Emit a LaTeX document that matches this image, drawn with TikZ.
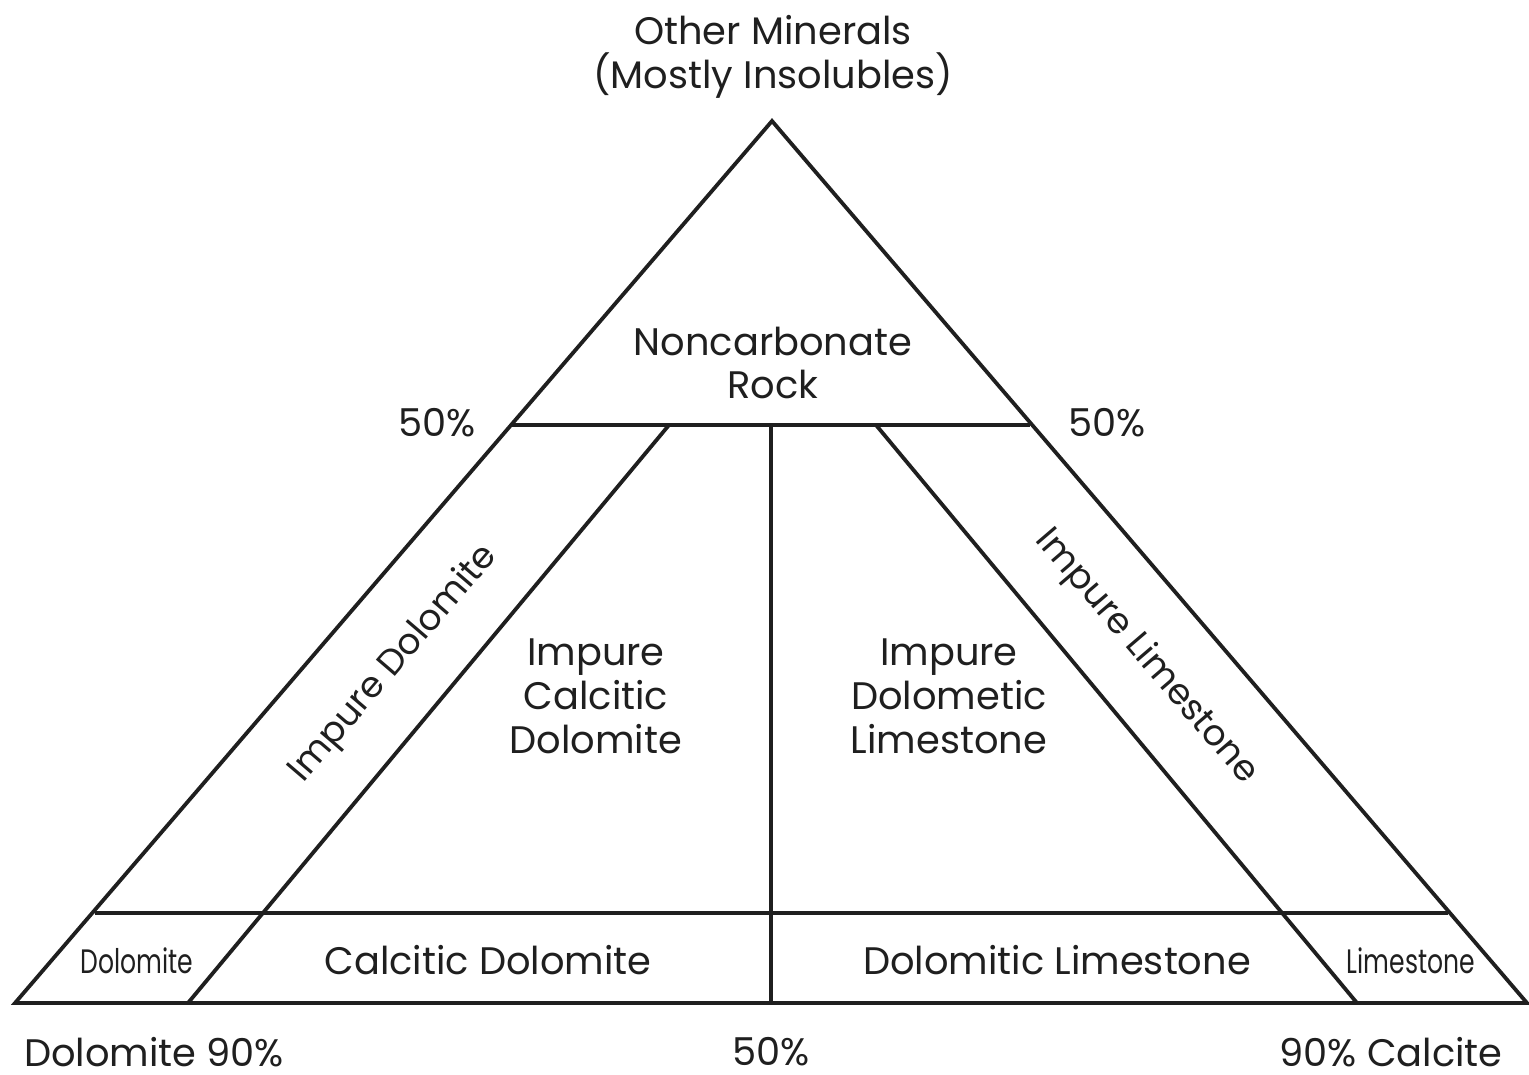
\documentclass[tikz,border=0pt]{standalone}
\usepackage{fontspec}
\setmainfont{Poppins}
\begin{document}
\begin{tikzpicture}[x=1bp,y=-1bp,
  ln/.style={line width=3.8bp,draw=black!88,line join=miter},
  lbl/.style={text=black!88,font=\fontsize{38.5}{44}\selectfont,align=center,inner sep=0pt},
  rot/.style={text=black!88,font=\fontsize{36}{44}\selectfont,inner sep=0pt},
  small/.style={text=black!88,font=\fontsize{34}{40}\selectfont,inner sep=0pt,xscale=0.74}]
\path[use as bounding box] (0,0) rectangle (1529,1074);
% vertices
\coordinate (A) at (772,121);
\coordinate (BL) at (15,1003);
\coordinate (BR) at (1527,1003);
\coordinate (L50) at (512,425);
\coordinate (R50) at (1030,425);
\coordinate (IL) at (669,425);
\coordinate (IR) at (876,425);
\coordinate (M50) at (771,425);
\coordinate (ILb) at (188,1003);
\coordinate (IRb) at (1357,1003);
\coordinate (Mb) at (771,1003);
\coordinate (L90) at (95,913);
\coordinate (R90) at (1448,913);
% lines
\draw[ln] (BL) -- (A) -- (BR) -- cycle;
\draw[ln] (L50) -- (R50);
\draw[ln] (IL) -- (ILb);
\draw[ln] (IR) -- (IRb);
\draw[ln] (M50) -- (Mb);
\draw[ln] (L90) -- (R90);
% labels
\node[lbl] (top) at (773,57) {Other Minerals\\(Mostly Insolubles)};
\node[lbl] (nc) at (773,363) {Noncarbonate\\Rock};
\node[lbl] (p50l) at (437,423) {50\%};
\node[lbl] (p50r) at (1107,423) {50\%};
\node[rot,rotate=49.4] (impd) at (394,664) {Impure Dolomite};
\node[rot,rotate=-49.4] (impl) at (1146,657) {Impure Limestone};
\node[lbl] (icd) at (596,696) {Impure\\Calcitic\\Dolomite};
\node[lbl] (idl) at (949,696) {Impure\\Dolometic\\Limestone};
\node[small] (dol) at (137,961) {Dolomite};
\node[small] (lim) at (1411,961) {Limestone};
\node[lbl] (cd) at (488,960) {Calcitic Dolomite};
\node[lbl] (dl) at (1057,960) {Dolomitic Limestone};
\node[lbl] (b1) at (154,1052) {Dolomite 90\%};
\node[lbl] (b2) at (771,1052) {50\%};
\node[lbl] (b3) at (1391,1052) {90\% Calcite};
\end{tikzpicture}
\end{document}
